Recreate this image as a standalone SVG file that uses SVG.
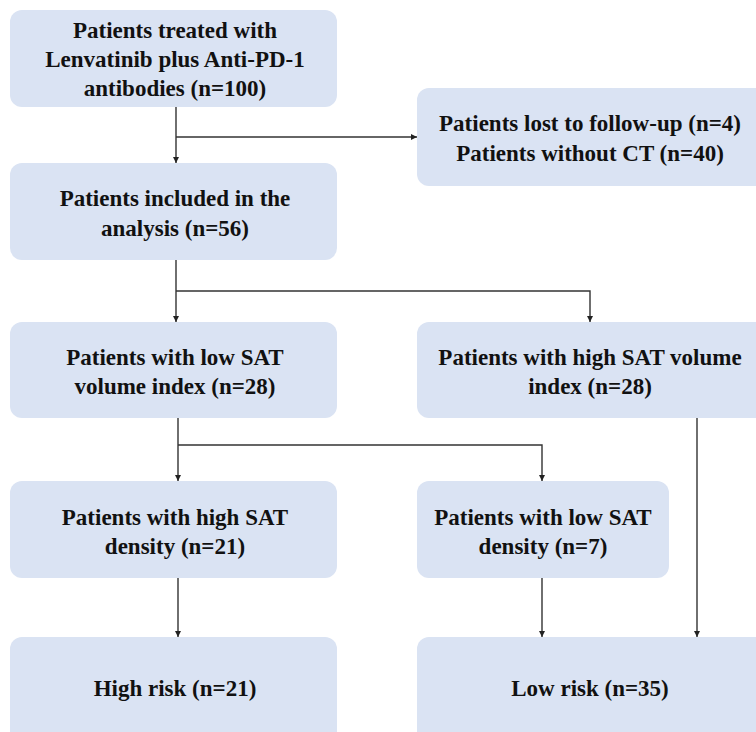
<svg xmlns="http://www.w3.org/2000/svg" width="756" height="732" viewBox="0 0 756 732">
<defs>
<marker id="ah" viewBox="0 0 10 10" refX="10" refY="5" markerWidth="6" markerHeight="6" markerUnits="userSpaceOnUse" orient="auto">
<path d="M0,0 L10,5 L0,10 z" fill="#222"/>
</marker>
</defs>
<style>
.box{fill:#dae3f3;}
.c{fill:none;stroke:#333;stroke-width:1.4;}
</style>
<rect width="756" height="732" fill="#fff"/>
<g font-family="'Liberation Serif', serif" font-weight="bold" font-size="23" fill="#111" text-anchor="middle">
<g id="n1"><rect class="box" x="10" y="10" width="327" height="97" rx="12"/>
<text x="175" y="38">Patients treated with</text>
<text x="175" y="67">Lenvatinib plus Anti-PD-1</text>
<text x="175" y="96">antibodies (n=100)</text></g>
<g id="n2"><rect class="box" x="417" y="88" width="352" height="98" rx="12"/>
<text x="590" y="131">Patients lost to follow-up (n=4)</text>
<text x="590" y="161">Patients without CT (n=40)</text></g>
<g id="n3"><rect class="box" x="10" y="163" width="327" height="97" rx="12"/>
<text x="175" y="206">Patients included in the</text>
<text x="175" y="236">analysis (n=56)</text></g>
<g id="n4"><rect class="box" x="10" y="322" width="327" height="96" rx="12"/>
<text x="175" y="365">Patients with low SAT</text>
<text x="175" y="394">volume index (n=28)</text></g>
<g id="n5"><rect class="box" x="417" y="322" width="352" height="96" rx="12"/>
<text x="590" y="365">Patients with high SAT volume</text>
<text x="590" y="394">index (n=28)</text></g>
<g id="n6"><rect class="box" x="10" y="481" width="327" height="97" rx="12"/>
<text x="175" y="525">Patients with high SAT</text>
<text x="175" y="554">density (n=21)</text></g>
<g id="n7"><rect class="box" x="417" y="481" width="252" height="97" rx="12"/>
<text x="543" y="525">Patients with low SAT</text>
<text x="543" y="554">density (n=7)</text></g>
<g id="n8"><rect class="box" x="10" y="637" width="327" height="110" rx="12"/>
<text x="175" y="696">High risk (n=21)</text></g>
<g id="n9"><rect class="box" x="417" y="637" width="352" height="110" rx="12"/>
<text x="590" y="696">Low risk (n=35)</text></g>
</g>
<g id="connectors">
<path class="c" d="M176,107 V163" marker-end="url(#ah)"/>
<path class="c" d="M176,137 H417" marker-end="url(#ah)"/>
<path class="c" d="M176,260 V322" marker-end="url(#ah)"/>
<path class="c" d="M176,291 H590 V322" marker-end="url(#ah)"/>
<path class="c" d="M178,418 V481" marker-end="url(#ah)"/>
<path class="c" d="M178,445 H542 V481" marker-end="url(#ah)"/>
<path class="c" d="M697,418 V637" marker-end="url(#ah)"/>
<path class="c" d="M178,578 V637" marker-end="url(#ah)"/>
<path class="c" d="M542,578 V637" marker-end="url(#ah)"/>
</g>
</svg>
